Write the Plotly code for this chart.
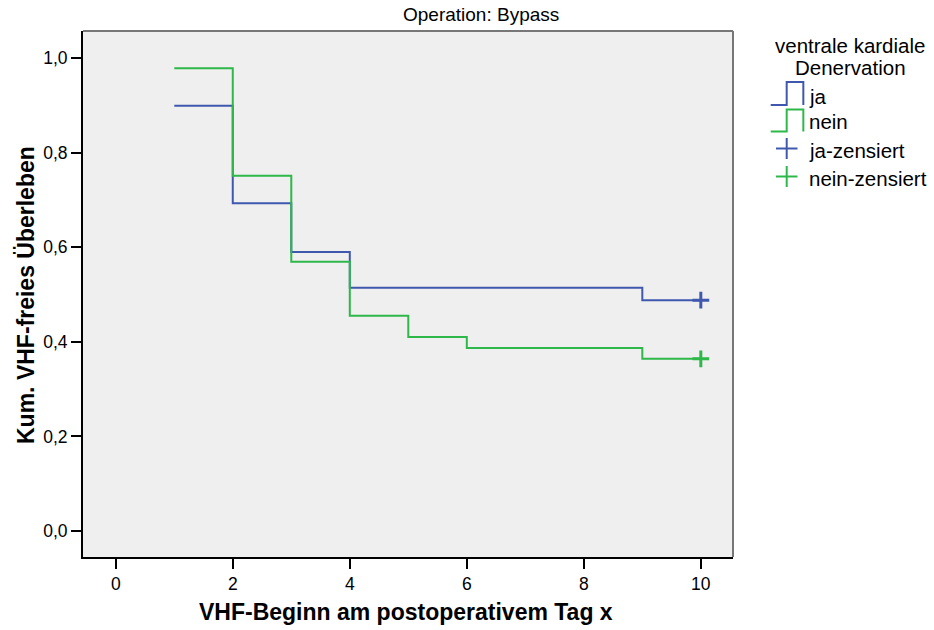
import plotly.graph_objects as go

# Data
ja_time = [1, 2, 3, 4, 9, 10]
ja_surv = [0.899, 0.693, 0.590, 0.514, 0.488, 0.488]
nein_time = [1, 2, 3, 4, 5, 6, 9, 10]
nein_surv = [0.978, 0.751, 0.569, 0.455, 0.410, 0.387, 0.364, 0.364]
ja_cens_time = [10]
ja_cens_surv = [0.488]
nein_cens_time = [10]
nein_cens_surv = [0.364]

x_ticks = [0, 2, 4, 6, 8, 10]
y_ticks = [0.0, 0.2, 0.4, 0.6, 0.8, 1.0]
y_ticktext = ["0,0", "0,2", "0,4", "0,6", "0,8", "1,0"]

BLUE = "#3F58AE"
GREEN = "#2EB84A"
FONT = "Liberation Sans, Arial, sans-serif"

fig = go.Figure()
fig.add_trace(go.Scatter(x=ja_time, y=ja_surv, mode="lines", line=dict(color=BLUE, width=2, shape="hv"),
                         name="ja", showlegend=False))
fig.add_trace(go.Scatter(x=nein_time, y=nein_surv, mode="lines", line=dict(color=GREEN, width=2, shape="hv"),
                         name="nein", showlegend=False))
fig.add_trace(go.Scatter(x=ja_cens_time, y=ja_cens_surv, mode="markers",
                         marker=dict(symbol="cross-thin", size=12, line=dict(color=BLUE, width=3)),
                         name="ja-zensiert", showlegend=False))
fig.add_trace(go.Scatter(x=nein_cens_time, y=nein_cens_surv, mode="markers",
                         marker=dict(symbol="cross-thin", size=12, line=dict(color=GREEN, width=3)),
                         name="nein-zensiert", showlegend=False))

# body margin removed via post_script; plot area target (page px): x 83..733, y 31..557
W, H = 934, 630
PL, PR, PT, PB = 83, 733, 31, 557
L, T, R, B = PL, PT, W - PR, H - PB
plot_w = PR - PL
plot_h = PB - PT


def gx(xpix):
    return (xpix - PL) / plot_w


def gy(ypix):
    return 1 - (ypix - PT) / plot_h


shapes = []
# top and right frame lines (grey)
shapes.append(dict(type="line", xref="paper", yref="paper", x0=0, x1=1, y0=1, y1=1,
                   line=dict(color="#777777", width=2)))
shapes.append(dict(type="line", xref="paper", yref="paper", x0=1, x1=1, y0=0, y1=1,
                   line=dict(color="#777777", width=2)))


def step_path(ybot, ytop, color):
    xs = [770.7, 786.7, 786.7, 803.3, 803.3]
    ys = [ybot, ybot, ytop, ytop, ybot]
    path = "M {:.4f} {:.4f}".format(gx(xs[0]), gy(ys[0]))
    for a, b in zip(xs[1:], ys[1:]):
        path += " L {:.4f} {:.4f}".format(gx(a), gy(b))
    return dict(type="path", xref="paper", yref="paper", path=path,
                line=dict(color=color, width=2), layer="above")


shapes.append(step_path(105, 82, BLUE))
shapes.append(step_path(131.5, 109.5, GREEN))
for cy, col in [(148.5, BLUE), (176.5, GREEN)]:
    shapes.append(dict(type="line", xref="paper", yref="paper", x0=gx(776), x1=gx(797.5),
                       y0=gy(cy), y1=gy(cy), line=dict(color=col, width=2)))
    shapes.append(dict(type="line", xref="paper", yref="paper", x0=gx(786.7), x1=gx(786.7),
                       y0=gy(cy - 10.5), y1=gy(cy + 10.5), line=dict(color=col, width=2)))

annotations = []
annotations.append(dict(text="Operation: Bypass", xref="paper", yref="paper", x=gx(480.5), y=gy(15),
                        showarrow=False, xanchor="center", yanchor="middle",
                        font=dict(family=FONT, size=19, color="#000000")))
annotations.append(dict(text="ventrale kardiale", xref="paper", yref="paper", x=gx(850), y=gy(46),
                        showarrow=False, xanchor="center", yanchor="middle",
                        font=dict(family=FONT, size=20.5, color="#000000")))
annotations.append(dict(text="Denervation", xref="paper", yref="paper", x=gx(850), y=gy(67),
                        showarrow=False, xanchor="center", yanchor="middle",
                        font=dict(family=FONT, size=20.5, color="#000000")))
for label, yy in [("ja", 96), ("nein", 122), ("ja-zensiert", 150), ("nein-zensiert", 178)]:
    annotations.append(dict(text=label, xref="paper", yref="paper", x=gx(807), y=gy(yy),
                            showarrow=False, xanchor="left", yanchor="middle",
                            font=dict(family=FONT, size=20.5, color="#000000")))
# axis titles
annotations.append(dict(text="<b>VHF-Beginn am postoperativem Tag x</b>", xref="paper", yref="paper",
                        x=gx(406), y=gy(612), showarrow=False, xanchor="center", yanchor="middle",
                        font=dict(family=FONT, size=23, color="#000000")))
annotations.append(dict(text="<b>Kum. VHF-freies Überleben</b>", xref="paper", yref="paper",
                        x=gx(26), y=gy(295), showarrow=False, xanchor="center", yanchor="middle",
                        textangle=-90, font=dict(family=FONT, size=23, color="#000000")))

fig.update_layout(
    width=W, height=H,
    margin=dict(l=L, r=R, t=T, b=B, pad=0),
    paper_bgcolor="white",
    plot_bgcolor="#EFEFEF",
    font=dict(family=FONT, size=17.5, color="#000000"),
    shapes=shapes,
    annotations=annotations,
    showlegend=False,
    xaxis=dict(range=[-0.56, 10.55], tickvals=x_ticks, ticktext=[str(v) for v in x_ticks],
               showgrid=False, zeroline=False, showline=True, linecolor="#000000", linewidth=2,
               ticks="outside", ticklen=10, tickwidth=2, tickcolor="#000000",
               tickfont=dict(family=FONT, size=17.5)),
    yaxis=dict(range=[-0.055, 1.057], tickvals=y_ticks, ticktext=y_ticktext,
               showgrid=False, zeroline=False, showline=True, linecolor="#000000", linewidth=2,
               ticks="outside", ticklen=10, tickwidth=2, tickcolor="#000000",
               tickfont=dict(family=FONT, size=17.5)),
)

fig.write_html("out.html", config={"displayModeBar": False},
               post_script="document.body.style.margin='0';document.body.style.overflow='hidden';")
